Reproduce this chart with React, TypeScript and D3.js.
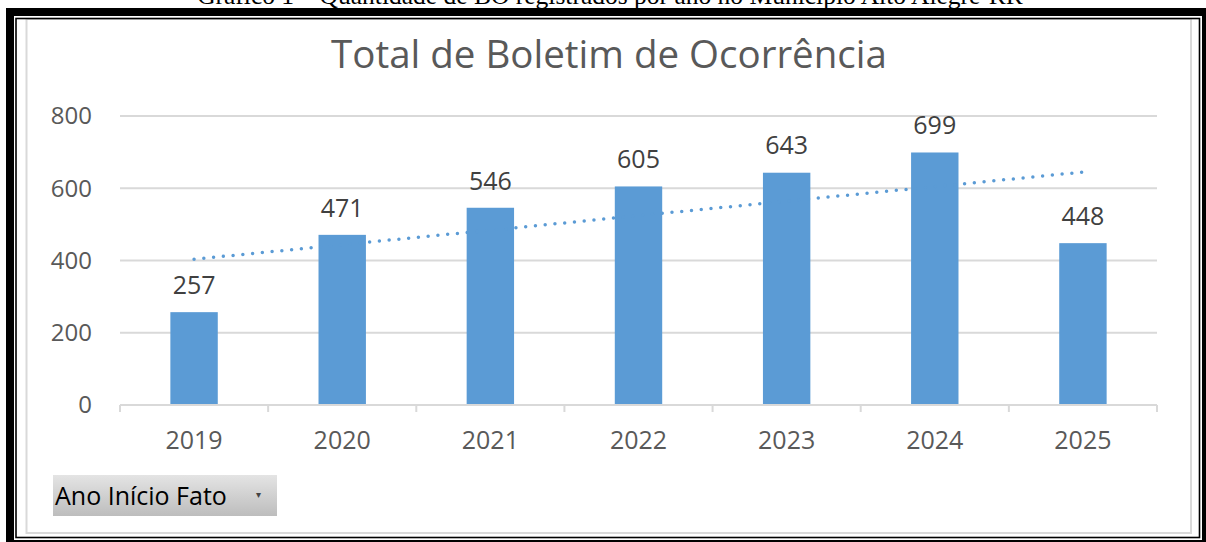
import React from "react";
import * as d3 from "d3";

const categories = ["2019", "2020", "2021", "2022", "2023", "2024", "2025"];
const values = [257, 471, 546, 605, 643, 699, 448];
const yTicks = [0, 200, 400, 600, 800];
const title = "Total de Boletim de Ocorrência";
const caption = "Gráfico 1 – Quantidade de BO registrados por ano no Município Alto Alegre-RR";
const filterLabel = "Ano Início Fato";

const W = 1206;
const H = 542;
const plot = { left: 120, right: 1157, top: 116, bottom: 405 };
const barColor = "#5b9bd5";
const font = "'Open Sans', 'Noto Sans', sans-serif";

export default function App() {
  const x = d3.scaleBand<string>().domain(categories).range([plot.left, plot.right]).paddingInner(0.68).paddingOuter(0.34);
  const xb = d3.scaleBand<string>().domain(categories).range([plot.left, plot.right]);
  const y = d3.scaleLinear().domain([0, 800]).range([plot.bottom, plot.top]);

  // linear trend line (least squares) from the data
  const mx = d3.mean(values.map((_, i) => i)) as number;
  const my = d3.mean(values) as number;
  let sxy = 0, sxx = 0;
  values.forEach((v, i) => { sxy += (i - mx) * (v - my); sxx += (i - mx) * (i - mx); });
  const slope = sxy / sxx;
  const icpt = my - slope * mx;
  const trend = values.map((_, i) => [xb(categories[i])! + xb.bandwidth() / 2, y(icpt + slope * i)] as [number, number]);
  const line = d3.line();

  const boundaries = categories.map((c) => xb(c)!).concat([plot.right]);

  return (
    <svg width={W} height={H} style={{ position: "absolute", left: 0, top: 0 }} xmlns="http://www.w3.org/2000/svg">
      <defs>
        <linearGradient id="btn" x1="0" y1="0" x2="0" y2="1">
          <stop offset="0" stopColor="#e4e4e4" />
          <stop offset="1" stopColor="#bdbdbd" />
        </linearGradient>
      </defs>
      <rect x={0} y={0} width={W} height={H} fill="#fff" />
      <text x={610} y={4} textAnchor="middle" fontFamily="'Liberation Serif', 'DejaVu Serif', serif" fontSize={25.5} fill="#000">{caption}</text>

      {/* chart area border */}
      <rect x={26.5} y={19} width={1164.5} height={514} fill="#fff" stroke="#d9d9d9" strokeWidth={2} />

      {/* frame */}
      <rect x={6} y={8} width={1200} height={8} fill="#000" />
      <rect x={6} y={8} width={8} height={534} fill="#000" />
      <rect x={1202} y={8} width={4} height={534} fill="#000" />
      <rect x={6} y={540} width={1200} height={2} fill="#000" />
      <rect x={16} y={18.5} width={1183.5} height={519} fill="none" stroke="#000" strokeWidth={1.6} />

      <text x={609} y={68} textAnchor="middle" fontFamily={font} fontSize={38.5} fill="#595959">{title}</text>

      {/* gridlines */}
      {yTicks.filter((t) => t > 0).map((t) => (
        <line key={t} x1={plot.left} x2={plot.right} y1={y(t)} y2={y(t)} stroke="#d9d9d9" strokeWidth={2} />
      ))}
      {yTicks.map((t) => (
        <text key={"l" + t} x={92} y={y(t)} dy="0.35em" textAnchor="end" fontFamily={font} fontSize={24} fill="#595959">{t}</text>
      ))}

      {/* bars */}
      {categories.map((c, i) => (
        <rect key={c} x={x(c)} y={y(values[i])} width={x.bandwidth()} height={y(0) - y(values[i])} fill={barColor} />
      ))}

      {/* axis */}
      <line x1={plot.left} x2={plot.right} y1={plot.bottom} y2={plot.bottom} stroke="#d9d9d9" strokeWidth={2} />
      {boundaries.map((b, i) => (
        <line key={"t" + i} x1={b} x2={b} y1={plot.bottom} y2={plot.bottom + 7} stroke="#d9d9d9" strokeWidth={2} />
      ))}
      {categories.map((c) => (
        <text key={"x" + c} x={xb(c)! + xb.bandwidth() / 2} y={440} dy="0.35em" textAnchor="middle" fontFamily={font} fontSize={25} fill="#595959">{c}</text>
      ))}

      {/* trend line */}
      <path d={line(trend) || ""} fill="none" stroke={barColor} strokeWidth={3.5} strokeLinecap="round" strokeDasharray="0 9.8" />

      {/* data labels */}
      {categories.map((c, i) => (
        <text key={"v" + c} x={xb(c)! + xb.bandwidth() / 2} y={y(values[i]) - 27} dy="0.35em" textAnchor="middle" fontFamily={font} fontSize={25} fill="#404040">{values[i]}</text>
      ))}

      {/* filter button */}
      <rect x={53} y={475} width={224} height={41} fill="url(#btn)" />
      <text x={55} y={496} dy="0.35em" fontFamily={font} fontSize={25} fill="#000">{filterLabel}</text>
      <text x={258} y={494} dy="0.35em" textAnchor="middle" fontFamily={font} fontSize={10} fill="#444">▾</text>
    </svg>
  );
}
